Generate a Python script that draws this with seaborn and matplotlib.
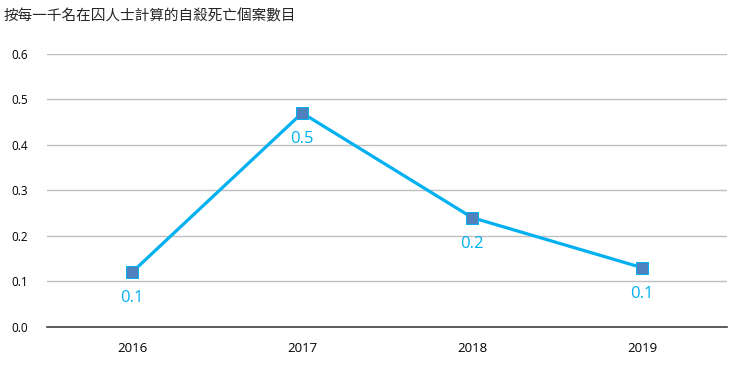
import matplotlib
matplotlib.use("Agg")
import matplotlib.pyplot as plt
import pandas as pd
import seaborn as sns

years = ["2016", "2017", "2018", "2019"]
rates = [0.12, 0.47, 0.24, 0.13]
labels = ["0.1", "0.5", "0.2", "0.1"]
title = "按每一千名在囚人士計算的自殺死亡個案數目"

LINE = "#00B0F0"
MARK = "#4F81BD"

sns.set_theme(style="white")
plt.rcParams["font.family"] = ["Open Sans", "Noto Sans CJK TC", "DejaVu Sans"]

df = pd.DataFrame({"year": years, "rate": rates})

fig = plt.figure(figsize=(7.36, 3.66), dpi=100)
ax = fig.add_axes([0.064, 0.107, 0.924, 0.746])

sns.lineplot(data=df, x="year", y="rate", ax=ax, color=LINE, linewidth=2.3,
             marker="s", markersize=9, markerfacecolor=MARK,
             markeredgecolor=LINE, markeredgewidth=0.7, sort=False)

# data labels sit just under each marker
for i, (v, lab) in enumerate(zip(rates, labels)):
    ax.annotate(lab, (i, v), xytext=(0, -13), textcoords="offset points",
                ha="center", va="top", color=LINE, fontsize=12)

ax.set_xlim(-0.5, 3.5)
ax.set_ylim(0, 0.6)
ax.set_yticks([0.0, 0.1, 0.2, 0.3, 0.4, 0.5, 0.6])
ax.set_yticklabels([f"{t:.1f}" for t in ax.get_yticks()])
ax.yaxis.grid(True, color="#BFBFBF", linewidth=1)
ax.set_axisbelow(True)
ax.set_xlabel("")
ax.set_ylabel("")
for side in ["top", "right", "left"]:
    ax.spines[side].set_visible(False)
ax.spines["bottom"].set_color("#404040")
ax.spines["bottom"].set_linewidth(1.2)
ax.tick_params(axis="y", labelsize=8.5, length=0, pad=14, colors="black")
ax.tick_params(axis="x", labelsize=9.5, length=0, pad=11, colors="black")

fig.text(0.005, 0.955, title, fontsize=10.5, ha="left", va="center",
         family=["Noto Sans CJK TC", "DejaVu Sans"])

fig.savefig("out.png", dpi=100)
